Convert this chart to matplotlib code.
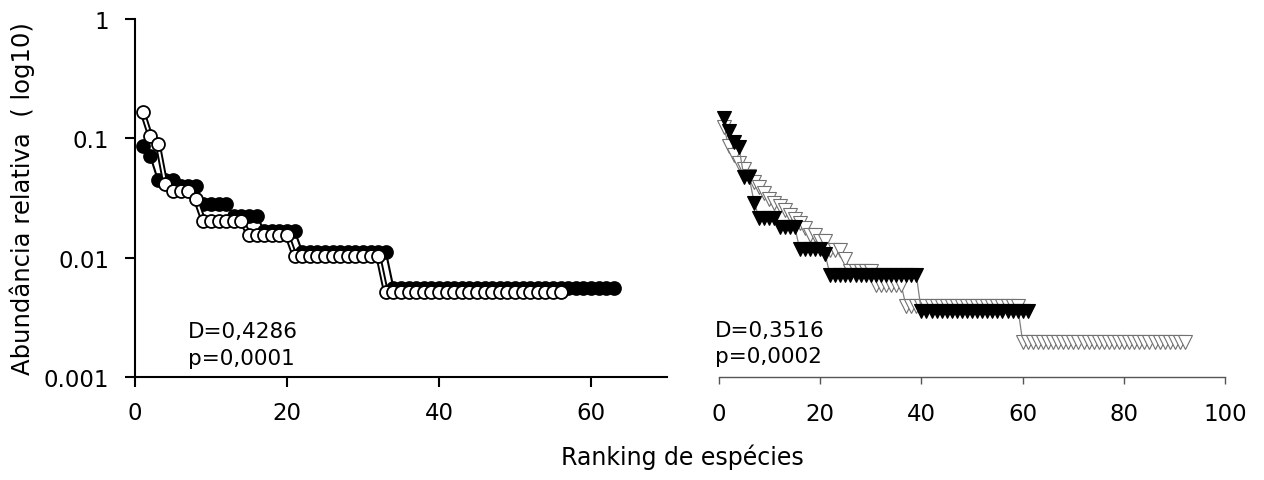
import matplotlib
matplotlib.use("Agg")
import matplotlib.pyplot as plt
import matplotlib.patheffects as pe
from matplotlib.ticker import FixedLocator, FixedFormatter, NullLocator

plt.rcParams["font.family"] = ["DejaVu Sans"]

# left panel: relative abundance by rank (circles)
black_left = ([0.087, 0.0715, 0.045, 0.045, 0.045, 0.040, 0.040, 0.040]
              + [0.028] * 4 + [0.0225] * 4 + [0.0168] * 5
              + [0.0112] * 12 + [0.0056] * 30)
white_left = ([0.165, 0.105, 0.0895, 0.0414, 0.0364, 0.0364, 0.0364, 0.031]
              + [0.0204] * 6 + [0.0156] * 6 + [0.0104] * 12 + [0.0052] * 24)

# right panel: relative abundance by rank (triangles)
black_right = ([0.148, 0.115, 0.093, 0.084, 0.047, 0.047, 0.029]
               + [0.0213] * 4 + [0.018] * 4 + [0.0118] * 5 + [0.0107]
               + [0.0071] * 18 + [0.00355] * 22)
white_right = ([0.124, 0.086, 0.072, 0.062, 0.055, 0.048, 0.043, 0.039,
                0.035, 0.031, 0.029, 0.027, 0.025, 0.023, 0.021, 0.0195,
                0.0176, 0.0156, 0.0156, 0.0137, 0.0137, 0.0117, 0.0117,
                0.0117, 0.0098]
               + [0.0078] * 5 + [0.0059] * 6 + [0.0039] * 23 + [0.00195] * 33)

y_ticks = [0.001, 0.01, 0.1, 1]
y_labels = ["0.001", "0.01", "0.1", "1"]
left_xticks = [0, 20, 40, 60]
right_xticks = [0, 20, 40, 60, 80, 100]
stats_left = ["D=0,4286", "p=0,0001"]
stats_right = ["D=0,3516", "p=0,0002"]

FS = 16.5

fig = plt.figure(figsize=(12.64, 4.81), dpi=100, facecolor="white")
axl = fig.add_axes([0.1068, 0.2141, 0.4209, 0.7443])
axr = fig.add_axes([0.5686, 0.2141, 0.4009, 0.7443])

for ax in (axl, axr):
    ax.set_yscale("log")
    ax.set_ylim(0.001, 1)
    ax.spines["top"].set_visible(False)
    ax.spines["right"].set_visible(False)
    ax.yaxis.set_minor_locator(NullLocator())

# left panel
rl_b = range(1, len(black_left) + 1)
rl_w = range(1, len(white_left) + 1)
axl.plot(rl_b, black_left, color="black", lw=1.5, clip_on=False, zorder=2)
axl.plot(rl_b, black_left, ls="none", marker="o", ms=9.3, mfc="black",
         mec="black", mew=1.3, clip_on=False, zorder=3)
axl.plot(rl_w, white_left, color="white", lw=1.4, clip_on=False, zorder=4,
         path_effects=[pe.Stroke(linewidth=4.2, foreground="black"), pe.Normal()])
axl.plot(rl_w, white_left, ls="none", marker="o", ms=9.3, mfc="white",
         mec="black", mew=1.3, clip_on=False, zorder=5)

axl.set_xlim(0, 70)
axl.xaxis.set_major_locator(FixedLocator(left_xticks))
axl.yaxis.set_major_locator(FixedLocator(y_ticks))
axl.yaxis.set_major_formatter(FixedFormatter(y_labels))
for s in ("left", "bottom"):
    axl.spines[s].set_linewidth(1.5)
axl.tick_params(axis="both", which="major", direction="out", length=7.5,
                width=1.5, labelsize=FS, colors="black")
axl.tick_params(axis="y", pad=11)
axl.tick_params(axis="x", pad=10)
axl.set_ylabel("Abundância relativa  ( log10)", fontsize=17.5, labelpad=6)
axl.text(0.0996, 0.1117, stats_left[0], transform=axl.transAxes,
         fontsize=15.5, va="baseline", ha="left")
axl.text(0.0996, 0.0363, stats_left[1], transform=axl.transAxes,
         fontsize=15.5, va="baseline", ha="left")

# right panel
rr_b = range(1, len(black_right) + 1)
rr_w = range(1, len(white_right) + 1)
axr.plot(rr_w, white_right, color="#808080", lw=0.9, clip_on=False, zorder=2)
axr.plot(rr_w, white_right, ls="none", marker="v", ms=9.5, mfc="white",
         mec="#707070", mew=0.8, clip_on=False, zorder=3)
axr.plot(rr_b, black_right, color="#808080", lw=0.9, clip_on=False, zorder=4)
axr.plot(rr_b, black_right, ls="none", marker="v", ms=9.5, mfc="black",
         mec="black", mew=0.8, clip_on=False, zorder=5)

axr.set_xlim(0, 100)
axr.xaxis.set_major_locator(FixedLocator(right_xticks))
axr.spines["left"].set_visible(False)
axr.spines["bottom"].set_linewidth(1.0)
axr.spines["bottom"].set_color("#555555")
axr.tick_params(axis="x", direction="out", length=5, width=1.0,
                color="#555555", labelcolor="black", labelsize=FS, pad=13)
axr.tick_params(axis="y", which="both", left=False, labelleft=False)
axr.text(-0.0073, 0.1154, stats_right[0], transform=axr.transAxes,
         fontsize=15.5, va="baseline", ha="left")
axr.text(-0.0073, 0.042, stats_right[1], transform=axr.transAxes,
         fontsize=15.5, va="baseline", ha="left")

fig.text(0.540, 0.033, "Ranking de espécies", fontsize=17,
         ha="center", va="baseline")

fig.savefig("out.png", dpi=100, facecolor="white")
